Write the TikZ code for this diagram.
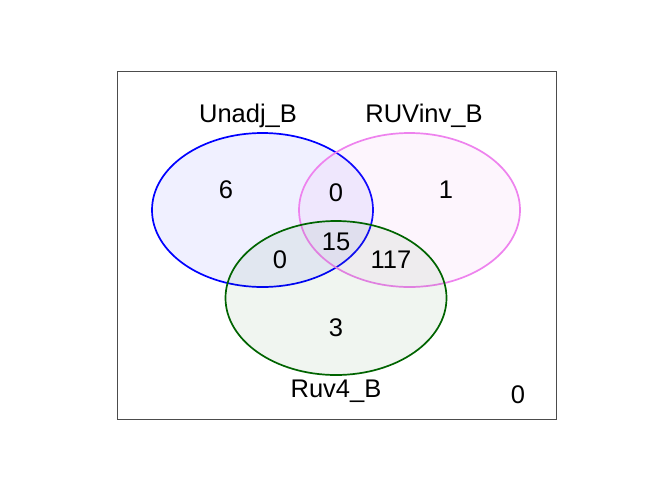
\documentclass[tikz,border=0pt]{standalone}
\usepackage{fontspec}
\setmainfont{Liberation Sans}
\definecolor{vblue}{HTML}{0000FF}
\definecolor{vpink}{HTML}{EE82EE}
\definecolor{vgreen}{HTML}{006400}
\begin{document}
\begin{tikzpicture}[x=1pt,y=-1pt,
  lab/.style={font=\fontsize{25.5}{25.5}\selectfont, inner sep=0pt, anchor=center},
  setA/.style={draw=vblue, line width=1.7pt, fill=vblue, fill opacity=0.06},
  setB/.style={draw=vpink, line width=1.7pt, fill=vpink, fill opacity=0.08},
  setC/.style={draw=vgreen, line width=1.7pt, fill=vgreen, fill opacity=0.06}]
\useasboundingbox (0,0) rectangle (672,480);
\fill[white] (0,0) rectangle (672,480);
\draw[line width=0.8pt, black!70] (117,71) rectangle (556,419);
\draw[setA] (262.5,210) ellipse [x radius=110.5, y radius=77];
\draw[setB] (409.5,210) ellipse [x radius=110.5, y radius=77];
\draw[setC] (336,298) ellipse [x radius=110.5, y radius=77];
\node[lab] (la) at (248,116) {Unadj\_B};
\node[lab] (lb) at (424,116) {RUVinv\_B};
\node[lab] (lc) at (336,391) {Ruv4\_B};
\node[lab] (out) at (518,395) {0};
\node[lab] (a) at (226,190) {6};
\node[lab] (ab) at (336,193) {0};
\node[lab] (b) at (446,190) {1};
\node[lab] (abc) at (336,242) {15};
\node[lab] (ac) at (280,260) {0};
\node[lab] (bc) at (391,260) {117};
\node[lab] (c) at (336,328) {3};
\end{tikzpicture}
\end{document}
